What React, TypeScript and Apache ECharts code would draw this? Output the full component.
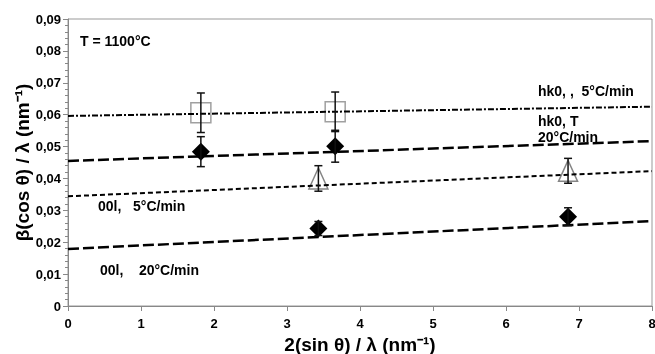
import React, { useEffect, useRef } from "react";
import * as echarts from "echarts";

// ---- data ----
const xMin = 0;
const xMax = 8;
const yMin = 0;
const yMax = 0.09;

// measured points (x, y, error)
const hk0_5_x = [1.82, 3.66];
const hk0_5_y = [0.0606, 0.0609];
const hk0_5_err = [0.0062, 0.0062];

const hk0_20_x = [1.82, 3.66];
const hk0_20_y = [0.0484, 0.0501];
const hk0_20_err = [0.0047, 0.005];

const l00_5_x = [3.43, 6.85];
const l00_5_y = [0.04, 0.0424];
const l00_5_err = [0.004, 0.0039];

const l00_20_x = [3.43, 6.85];
const l00_20_y = [0.0243, 0.028];
const l00_20_err = [0.0022, 0.0028];

// fitted trend lines (value at x = 0 and x = 8)
const fitX = [0, 8];
const hk0_5_fit = [0.0596, 0.0625];
const hk0_20_fit = [0.0455, 0.0517];
const l00_5_fit = [0.0344, 0.0423];
const l00_20_fit = [0.0179, 0.0266];

const FONT = "'Liberation Sans', Arial, sans-serif";

const pts = (xs: number[], ys: number[]) => xs.map((x, i) => [x, ys[i]]);
const errs = (xs: number[], ys: number[], es: number[]) =>
  xs.map((x, i) => [x, ys[i] - es[i], ys[i] + es[i]]);

export default function App() {
  const ref = useRef<HTMLDivElement>(null);
  useEffect(() => {
    if (!ref.current) return;
    const chart = echarts.init(ref.current, undefined, { renderer: "svg" });

    const lineSeries = (data: number[], dash: number[], width: number) => ({
      type: "line",
      data: pts(fitX, data),
      symbol: "none",
      lineStyle: { color: "#000", width, type: dash },
      z: 3,
      silent: true,
    });

    const errorSeries = (data: number[][]) => ({
      type: "custom",
      data,
      encode: { x: 0, y: [1, 2] },
      z: 5,
      renderItem: (_p: any, api: any) => {
        const x = api.value(0);
        const top = api.coord([x, api.value(2)]);
        const bot = api.coord([x, api.value(1)]);
        const c = 4;
        const st = { stroke: "#111", lineWidth: 1.5 };
        return {
          type: "group",
          children: [
            { type: "line", shape: { x1: top[0], y1: top[1], x2: bot[0], y2: bot[1] }, style: st },
            { type: "line", shape: { x1: top[0] - c, y1: top[1], x2: top[0] + c, y2: top[1] }, style: st },
            { type: "line", shape: { x1: bot[0] - c, y1: bot[1], x2: bot[0] + c, y2: bot[1] }, style: st },
          ],
        };
      },
    });

    const txt = (text: string, left: number, top: number) => ({
      type: "text",
      left,
      top,
      style: { text, fill: "#000", font: `bold 14px ${FONT}` },
    });

    chart.setOption({
      animation: false,
      textStyle: { fontFamily: FONT },
      grid: {
        left: 68,
        right: 3,
        top: 19,
        bottom: 48,
        show: true,
        borderColor: "#999",
        borderWidth: 1,
        containLabel: false,
        outerBoundsMode: "none",
      },
      xAxis: {
        type: "value",
        min: xMin,
        max: xMax,
        interval: 1,
        name: "2(sin θ) / λ (nm⁻¹)",
        nameLocation: "middle",
        nameGap: 29,
        nameMoveOverlap: false,
        nameTextStyle: { fontSize: 19, fontWeight: "bold", color: "#000", fontFamily: FONT },
        axisLine: { lineStyle: { color: "#888" } },
        axisTick: { show: true, length: 5, lineStyle: { color: "#888" } },
        axisLabel: { color: "#000", fontWeight: "bold", fontSize: 13, margin: 11, fontFamily: FONT },
        splitLine: { show: false },
      },
      yAxis: {
        type: "value",
        min: yMin,
        max: yMax,
        interval: 0.01,
        name: "β(cos θ) / λ (nm⁻¹)",
        nameLocation: "middle",
        nameGap: 36,
        nameMoveOverlap: false,
        nameTextStyle: { fontSize: 19, fontWeight: "bold", color: "#000", fontFamily: FONT },
        axisLine: { lineStyle: { color: "#888" } },
        axisTick: { show: true, length: 5, lineStyle: { color: "#888" } },
        minorTick: { show: true, splitNumber: 5, length: 3, lineStyle: { color: "#888" } },
        axisLabel: {
          color: "#000",
          fontWeight: "bold",
          fontSize: 13,
          margin: 7,
          fontFamily: FONT,
          formatter: (v: number) => (Math.abs(v) < 1e-9 ? "0" : (Math.round(v * 100) / 100).toFixed(2).replace(".", ",")),
        },
        splitLine: { show: false },
      },
      series: [
        {
          type: "scatter",
          data: pts(hk0_5_x, hk0_5_y),
          symbol: "rect",
          symbolSize: 20,
          itemStyle: { color: "transparent", borderColor: "#888", borderWidth: 1.5 },
          z: 2,
        },
        {
          type: "scatter",
          data: pts(l00_5_x, l00_5_y),
          symbol: "triangle",
          symbolSize: [19, 21],
          itemStyle: { color: "transparent", borderColor: "#666", borderWidth: 1.5 },
          z: 2,
        },
        lineSeries(hk0_5_fit, [6, 2, 2, 2], 2),
        lineSeries(hk0_20_fit, [11, 4], 2.5),
        lineSeries(l00_5_fit, [5, 3], 2),
        lineSeries(l00_20_fit, [11, 4], 2.5),
        {
          type: "scatter",
          data: pts(hk0_20_x, hk0_20_y),
          symbol: "diamond",
          symbolSize: 18,
          itemStyle: { color: "#000", opacity: 1 },
          z: 4,
        },
        {
          type: "scatter",
          data: pts(l00_20_x, l00_20_y),
          symbol: "diamond",
          symbolSize: 18,
          itemStyle: { color: "#000", opacity: 1 },
          z: 4,
        },
        errorSeries(errs(hk0_5_x, hk0_5_y, hk0_5_err)),
        errorSeries(errs(hk0_20_x, hk0_20_y, hk0_20_err)),
        errorSeries(errs(l00_5_x, l00_5_y, l00_5_err)),
        errorSeries(errs(l00_20_x, l00_20_y, l00_20_err)),
      ],
      graphic: [
        txt("T = 1100°C", 80, 34),
        txt("hk0, ,  5°C/min", 538, 84),
        txt("hk0, T", 538, 114),
        txt("20°C/min", 538, 130),
        txt("00l,   5°C/min", 98, 199),
        txt("00l,    20°C/min", 100, 263),
      ],
    });
    return () => chart.dispose();
  }, []);
  return <div ref={ref} style={{ position: "fixed", left: 0, top: 0, width: 655, height: 354 }} />;
}
